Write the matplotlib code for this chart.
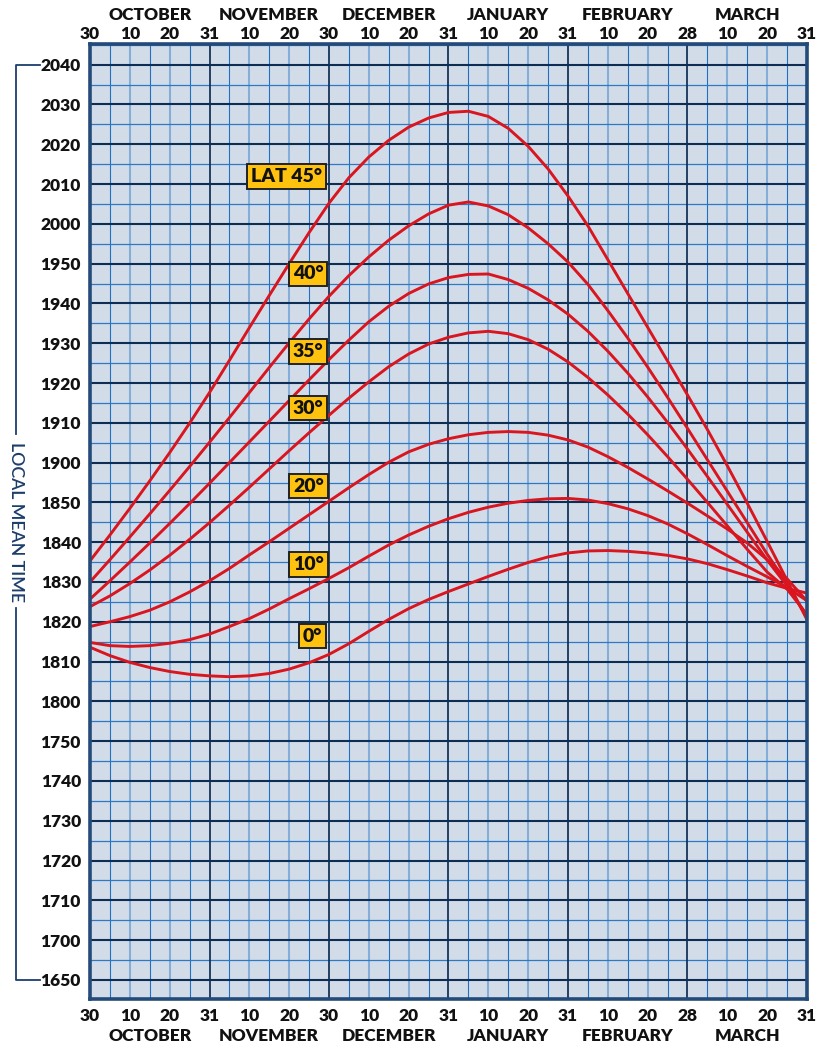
import numpy as np
import matplotlib
matplotlib.use("Agg")
import matplotlib.pyplot as plt
from matplotlib.lines import Line2D
from matplotlib.transforms import blended_transform_factory

plt.rcParams['font.family'] = ['Lato', 'DejaVu Sans']

# ---------------- data ----------------
months = ['OCTOBER', 'NOVEMBER', 'DECEMBER', 'JANUARY', 'FEBRUARY', 'MARCH']
day_labels = ['30', '10', '20', '31', '10', '20', '30', '10', '20', '31',
              '10', '20', '31', '10', '20', '28', '10', '20', '31']
time_labels = ['1650', '1700', '1710', '1720', '1730', '1740', '1750', '1800',
               '1810', '1820', '1830', '1840', '1850', '1900', '1910', '1920',
               '1930', '1940', '1950', '2000', '2010', '2020', '2030', '2040']

# sample points: 5-day steps from 30 Sep to 31 Mar (6 steps per month)
steps = np.arange(37)

# local mean time, written as HHMM (minutes may carry a decimal)
lat45 = [1835.3, 1841.8, 1848.5, 1855.4, 1902.5, 1909.9, 1917.6, 1925.7, 1933.9,
         1942.0, 1950.0, 1957.8, 2005.2, 2011.6, 2016.8, 2021.0, 2024.3, 2026.6,
         2028.0, 2028.3, 2027.0, 2024.0, 2019.5, 2013.8, 2007.0, 1959.5, 1951.0,
         1942.5, 1934.0, 1925.5, 1917.0, 1908.3, 1859.2, 1849.8, 1840.2, 1830.4,
         1820.5]
lat40 = [1830.0, 1835.6, 1841.3, 1847.1, 1853.0, 1859.0, 1905.1, 1911.3, 1917.6,
         1923.9, 1930.1, 1936.1, 1941.8, 1947.0, 1951.7, 1955.9, 1959.5, 2002.5,
         2004.7, 2005.5, 2004.5, 2002.3, 1959.0, 1955.0, 1950.4, 1944.8, 1938.2,
         1931.3, 1924.0, 1916.4, 1908.6, 1900.7, 1852.8, 1844.9, 1837.0, 1829.6,
         1821.0]
lat35 = [1825.7, 1830.3, 1835.0, 1839.8, 1844.7, 1849.7, 1854.8, 1900.0, 1905.2,
         1910.4, 1915.6, 1920.8, 1925.9, 1930.8, 1935.4, 1939.3, 1942.5, 1944.9,
         1946.5, 1947.3, 1947.4, 1946.0, 1943.8, 1940.9, 1937.3, 1933.0, 1928.0,
         1922.5, 1916.5, 1910.1, 1903.4, 1856.5, 1849.5, 1842.5, 1835.5, 1829.0,
         1821.5]
lat30 = [1823.8, 1826.5, 1829.6, 1833.0, 1836.7, 1840.7, 1844.9, 1849.3, 1853.8,
         1858.4, 1903.0, 1907.5, 1911.9, 1916.2, 1920.3, 1924.1, 1927.3, 1929.8,
         1931.5, 1932.6, 1933.0, 1932.4, 1930.9, 1928.5, 1925.3, 1921.4, 1917.0,
         1912.2, 1907.0, 1901.5, 1855.8, 1850.0, 1844.1, 1838.2, 1832.5, 1828.2,
         1821.8]
lat20 = [1818.8, 1820.0, 1821.3, 1822.9, 1825.0, 1827.5, 1830.3, 1833.4, 1836.8,
         1840.1, 1843.5, 1846.9, 1850.3, 1853.7, 1857.0, 1900.1, 1902.7, 1904.6,
         1906.0, 1907.0, 1907.6, 1907.8, 1907.6, 1906.9, 1905.7, 1903.9, 1901.5,
         1858.8, 1855.9, 1852.9, 1849.8, 1846.6, 1843.3, 1839.8, 1835.6, 1830.8,
         1825.2]
lat10 = [1814.8, 1814.0, 1813.8, 1814.0, 1814.6, 1815.5, 1816.9, 1818.8, 1820.8,
         1823.2, 1825.8, 1828.3, 1830.9, 1833.6, 1836.5, 1839.3, 1841.8, 1844.0,
         1845.9, 1847.5, 1848.8, 1849.8, 1850.5, 1850.9, 1851.0, 1850.6, 1849.7,
         1848.4, 1846.7, 1844.6, 1842.1, 1839.4, 1836.6, 1833.9, 1831.3, 1828.6,
         1825.3]
lat0 = [1813.6, 1811.5, 1809.8, 1808.5, 1807.5, 1806.8, 1806.4, 1806.2, 1806.4,
        1807.0, 1808.1, 1809.7, 1811.8, 1814.5, 1817.6, 1820.6, 1823.3, 1825.6,
        1827.6, 1829.5, 1831.4, 1833.2, 1834.9, 1836.3, 1837.3, 1837.8, 1837.9,
        1837.7, 1837.3, 1836.7, 1835.8, 1834.6, 1833.1, 1831.5, 1829.8, 1828.4,
        1827.2]

series = [lat45, lat40, lat35, lat30, lat20, lat10, lat0]
lat_names = ['LAT 45°', '40°', '35°', '30°', '20°', '10°', '0°']


def to_minutes(v):
    v = np.asarray(v, dtype=float)
    h = np.floor(v / 100.0)
    return h * 60.0 + (v - h * 100.0)


# ---------------- styling ----------------
BG = '#d2dce8'
NAVY = '#0e2d55'
LIGHT = '#84aed8'
THIN = '#1d70c4'
HMINOR = '#2f79c4'
RED = '#d9161f'
GOLD = '#fec20f'
TXT = '#111111'
FS = 12.5

W, H = 818, 1050
fig = plt.figure(figsize=(W / 100, H / 100), dpi=100)
x0, x1, ytop, ybot = 90, 807, 44, 999
ax = fig.add_axes([x0 / W, 1 - ybot / H, (x1 - x0) / W, (ybot - ytop) / H])
ax.set_facecolor(BG)

ymin, ymax = 1005.2, 1245.2
ax.set_xlim(0, 36)
ax.set_ylim(ymin, ymax)

# grid
for k in range(1, 36):
    if k % 6 == 0:
        ax.axvline(k, color=NAVY, lw=1.25, zorder=2)
    elif k % 2 == 0:
        ax.axvline(k, color=LIGHT, lw=1.5, zorder=1)
    else:
        ax.axvline(k, color=THIN, lw=0.8, zorder=1)
tick_minutes = to_minutes([int(t) for t in time_labels])
for m in tick_minutes:
    ax.axhline(m, color=NAVY, lw=1.5, zorder=2)
    ax.axhline(m + 5, color=HMINOR, lw=0.9, zorder=1)
ax.axhline(tick_minutes[0] - 5, color=HMINOR, lw=0.9, zorder=1)

# curves
for vals in series:
    ax.plot(steps, to_minutes(vals), color=RED, lw=2.1, zorder=5,
            solid_capstyle='round', solid_joinstyle='round')

# latitude labels
label_pos = [(9.85, 1211.9), (10.96, 1187.4), (10.96, 1168.0), (10.96, 1153.7),
             (10.96, 1134.1), (10.96, 1114.3), (11.17, 1096.4)]
for name, (lx, ly) in zip(lat_names, label_pos):
    ax.text(lx, ly, name, ha='center', va='center', fontsize=14,
            fontweight='heavy', color=TXT, zorder=8,
            bbox=dict(boxstyle='square,pad=0.2', fc=GOLD, ec='#222222', lw=1.4))

# spines
for s in ax.spines.values():
    s.set_color('#234a78')
    s.set_linewidth(2.6)
    s.set_zorder(10)

# ticks
ax.set_yticks(tick_minutes)
ax.set_yticklabels(time_labels, fontsize=FS, fontweight='heavy', color=TXT)
ax.tick_params(axis='y', length=0, pad=6.5)

ax.set_xticks(steps[::2])
ax.set_xticklabels(day_labels, fontsize=FS, fontweight='heavy', color=TXT)
ax.tick_params(axis='x', length=0, pad=6.5)

sec = ax.secondary_xaxis('top')
sec.set_xticks(steps[::2])
sec.set_xticklabels(day_labels, fontsize=FS, fontweight='heavy', color=TXT)
sec.tick_params(length=0, pad=1.2)
for s in sec.spines.values():
    s.set_visible(False)

# month names
tr = blended_transform_factory(ax.transData, fig.transFigure)
for i, name in enumerate(months):
    cx = 3 + 6 * i
    ax.text(cx, 1 - 14.5 / H, name, transform=tr, ha='center', va='center',
            fontsize=FS, fontweight='heavy', color=TXT)
    ax.text(cx, 1 - 1036 / H, name, transform=tr, ha='center', va='center',
            fontsize=FS, fontweight='heavy', color=TXT)

# left bracket with axis title
def fline(xs, ys):
    fig.add_artist(Line2D([x / W for x in xs], [1 - y / H for y in ys],
                          color='#1d3e6b', lw=1.3))

fline([40, 16, 16], [65, 65, 434])
fline([16, 16, 40], [608, 980, 980])
fig.text(16 / W, 1 - 522 / H, 'LOCAL MEAN TIME', rotation=-90, ha='center',
         va='center', fontsize=12.8, color='#1d3e6b', fontweight='semibold')

fig.savefig('out.png', dpi=100, facecolor='white')
